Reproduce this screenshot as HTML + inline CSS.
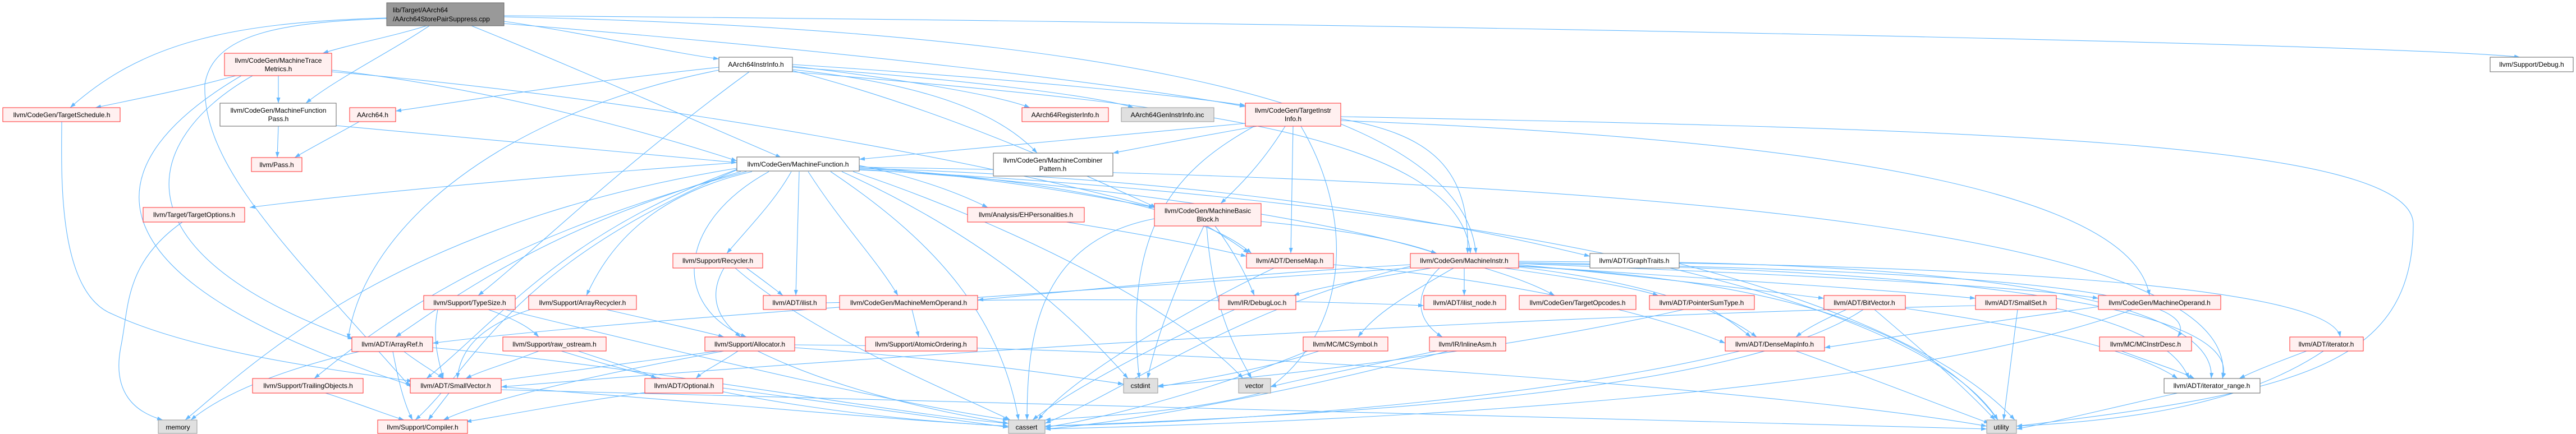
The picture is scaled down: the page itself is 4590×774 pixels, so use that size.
<!DOCTYPE html>
<html><head><meta charset="utf-8"><style>
html,body{margin:0;padding:0;background:#fff;}
svg{display:block;}
text{font-family:"Liberation Sans",Arial,sans-serif;font-size:12px;fill:#000;}
.e{fill:none;stroke:#63b8ff;stroke-width:1.1;marker-end:url(#a);}
.r{fill:#fff0f0;stroke:#ff2b2b;stroke-width:1;}
.g{fill:#fff;stroke:#666;stroke-width:1;}
.d{fill:#e0e0e0;stroke:#999;stroke-width:1;}
.root{fill:#999;stroke:#666;stroke-width:1;}
</style></head><body>
<svg width="4590" height="774" viewBox="0 0 4590 774" xmlns="http://www.w3.org/2000/svg">
<defs><marker id="a" markerWidth="11" markerHeight="8" refX="10" refY="3.5" orient="auto" markerUnits="userSpaceOnUse"><path d="M0,0 L10,3.5 L0,7 z" fill="#63b8ff"/></marker></defs>
<g>
<path class="e" d="M760 46 C700 65 620 80 575 95"/>
<path class="e" d="M689 32 C400 40 250 80 125 192"/>
<path class="e" d="M765 46 C700 90 600 140 545 184"/>
<path class="e" d="M898 38 C1050 60 1200 95 1281 105"/>
<path class="e" d="M840 46 C1000 110 1250 220 1392 281"/>
<path class="e" d="M898 42 C1500 90 2000 150 2219 190"/>
<path class="e" d="M898 30 C1800 50 2600 150 2630 452"/>
<path class="e" d="M898 28 C2500 40 4300 80 4490 102"/>
<path class="e" d="M689 33 C500 40 380 60 365 150 C360 300 520 450 731 690"/>
<path class="e" d="M420 135 C330 160 250 175 170 192"/>
<path class="e" d="M496 135 L496 184"/>
<path class="e" d="M450 135 C250 250 200 450 630 605"/>
<path class="e" d="M430 135 C150 300 150 500 735 688"/>
<path class="e" d="M591 125 C900 160 1200 250 1313 287"/>
<path class="e" d="M591 128 C1200 180 1800 300 2057 370"/>
<path class="e" d="M496 225 L494 281"/>
<path class="e" d="M599 224 C900 250 1200 280 1313 290"/>
<path class="e" d="M640 217 C600 240 560 260 525 281"/>
<path class="e" d="M1281 120 C1000 150 800 185 705 198"/>
<path class="e" d="M1412 118 C1600 140 1780 170 1835 192"/>
<path class="e" d="M1412 120 C1700 140 1950 170 2020 192"/>
<path class="e" d="M1412 115 C1800 140 2100 170 2219 188"/>
<path class="e" d="M1412 124 C1650 150 1780 200 1848 273"/>
<path class="e" d="M1335 128 C1100 300 950 450 852 527"/>
<path class="e" d="M1281 125 C900 200 650 400 620 605"/>
<path class="e" d="M1412 128 C2000 180 2600 220 2620 452"/>
<path class="e" d="M1412 126 C1700 200 1950 320 2060 370"/>
<path class="e" d="M2219 220 C1900 250 1700 270 1531 284"/>
<path class="e" d="M2240 225 C2100 250 2050 260 1983 273"/>
<path class="e" d="M2290 225 C2250 290 2210 330 2175 363"/>
<path class="e" d="M2304 225 L2300 452"/>
<path class="e" d="M2389 212 C2550 240 2620 300 2615 452"/>
<path class="e" d="M2235 225 C2100 300 2000 400 2030 675"/>
<path class="e" d="M2318 225 C2420 400 2400 600 2250 700 C2100 740 1900 745 1862 749"/>
<path class="e" d="M2389 208 C3500 230 4300 250 4300 400 C4300 650 4100 700 3593 760"/>
<path class="e" d="M2389 215 C3300 250 3800 350 3830 527"/>
<path class="e" d="M1313 290 C900 320 600 350 445 370"/>
<path class="e" d="M1313 300 C700 400 450 650 330 749"/>
<path class="e" d="M1313 303 C900 480 850 650 740 749"/>
<path class="e" d="M1313 302 C1000 420 900 560 760 675"/>
<path class="e" d="M1320 306 C1000 400 850 500 705 601"/>
<path class="e" d="M1330 306 C900 420 700 560 560 675"/>
<path class="e" d="M1410 306 C1380 360 1330 410 1295 452"/>
<path class="e" d="M1340 306 C1150 350 1080 450 1045 527"/>
<path class="e" d="M1424 306 L1418 527"/>
<path class="e" d="M1440 306 C1500 400 1560 460 1600 527"/>
<path class="e" d="M1531 295 C1650 320 1720 350 1760 370"/>
<path class="e" d="M1531 297 C1800 320 1950 350 2057 370"/>
<path class="e" d="M1531 300 C1900 320 2150 380 2230 452"/>
<path class="e" d="M1531 300 C2200 320 2600 400 2833 457"/>
<path class="e" d="M1480 306 C1650 420 1780 550 1815 749"/>
<path class="e" d="M1500 306 C1750 420 1900 550 2010 675"/>
<path class="e" d="M1520 306 C1800 400 2100 550 2215 675"/>
<path class="e" d="M1370 306 C1200 400 1200 550 1330 601"/>
<path class="e" d="M1531 303 C2500 350 3400 500 3560 749"/>
<path class="e" d="M1531 298 C3000 320 4000 420 3960 675"/>
<path class="e" d="M1531 302 C2000 330 2400 400 2560 452"/>
<path class="e" d="M1330 478 C1360 500 1380 515 1395 527"/>
<path class="e" d="M1290 478 C1260 530 1280 570 1320 601"/>
<path class="e" d="M1310 478 C1450 600 1700 700 1800 749"/>
<path class="e" d="M1080 552 C1180 575 1250 590 1290 601"/>
<path class="e" d="M945 552 C860 580 820 620 815 675"/>
<path class="e" d="M870 552 C920 570 945 585 960 601"/>
<path class="e" d="M780 552 C770 600 780 640 790 675"/>
<path class="e" d="M900 552 C1300 650 1600 720 1797 749"/>
<path class="e" d="M1625 552 L1637 601"/>
<path class="e" d="M960 626 C900 650 860 660 830 675"/>
<path class="e" d="M1030 626 C1100 650 1140 660 1170 675"/>
<path class="e" d="M1000 626 C1300 720 1600 750 1797 760"/>
<path class="e" d="M1315 626 C1280 650 1255 660 1240 675"/>
<path class="e" d="M1280 626 C1100 650 950 670 880 680"/>
<path class="e" d="M1290 626 C1000 680 850 720 790 749"/>
<path class="e" d="M1350 626 C1500 700 1700 740 1797 755"/>
<path class="e" d="M1416 620 C1700 640 1900 670 2002 685"/>
<path class="e" d="M1416 615 C2200 620 3200 700 3540 760"/>
<path class="e" d="M720 627 C750 650 770 660 790 675"/>
<path class="e" d="M700 627 C710 680 720 720 735 749"/>
<path class="e" d="M640 627 C500 660 400 700 340 749"/>
<path class="e" d="M771 620 C1200 660 1600 740 1797 755"/>
<path class="e" d="M800 701 L763 749"/>
<path class="e" d="M893 690 C1300 720 1600 750 1797 760"/>
<path class="e" d="M893 695 C2000 730 3000 750 3540 765"/>
<path class="e" d="M1150 700 C1000 720 880 745 830 752"/>
<path class="e" d="M1288 692 C1500 720 1700 750 1797 762"/>
<path class="e" d="M110 217 C110 300 100 520 200 560 C350 630 600 660 735 680"/>
<path class="e" d="M325 396 C220 470 230 550 215 620 C200 700 240 735 290 749"/>
<path class="e" d="M580 701 C640 720 690 740 720 749"/>
<path class="e" d="M2150 403 C2180 420 2210 440 2225 452"/>
<path class="e" d="M2165 403 C2200 450 2220 490 2235 527"/>
<path class="e" d="M2145 403 C2100 500 2060 600 2045 675"/>
<path class="e" d="M2150 403 C2160 550 2200 620 2230 675"/>
<path class="e" d="M2057 390 C1850 430 1830 600 1830 749"/>
<path class="e" d="M2247 395 C2400 410 2500 430 2560 452"/>
<path class="e" d="M2609 478 L2609 527"/>
<path class="e" d="M2645 478 C2700 495 2740 510 2770 527"/>
<path class="e" d="M2680 478 C2800 495 2900 510 2955 527"/>
<path class="e" d="M2590 478 C2500 530 2450 560 2420 601"/>
<path class="e" d="M2565 478 C2520 520 2520 570 2570 601"/>
<path class="e" d="M2550 478 C2420 500 2340 515 2305 527"/>
<path class="e" d="M2706 472 C3000 500 3150 520 3250 532"/>
<path class="e" d="M2706 474 C3100 500 3400 520 3520 532"/>
<path class="e" d="M2706 470 C3200 490 3600 510 3739 532"/>
<path class="e" d="M2706 476 C2900 500 3050 540 3130 601"/>
<path class="e" d="M2706 468 C3300 480 3950 500 3880 601"/>
<path class="e" d="M2706 466 C3400 470 4150 500 4170 601"/>
<path class="e" d="M2706 470 C3500 480 4000 550 3960 675"/>
<path class="e" d="M2706 475 C3200 500 3450 600 3560 749"/>
<path class="e" d="M2513 475 C2200 550 2000 700 1862 755"/>
<path class="e" d="M2513 472 C2200 490 1900 520 1742 535"/>
<path class="e" d="M2513 478 C1900 520 1100 570 771 612"/>
<path class="e" d="M2992 470 C3300 550 3500 650 3590 749"/>
<path class="e" d="M2992 468 C3600 480 3950 550 3940 675"/>
<path class="e" d="M3050 552 C3080 570 3100 585 3120 601"/>
<path class="e" d="M3000 552 C2700 620 2300 670 2063 688"/>
<path class="e" d="M3290 552 C3250 570 3220 585 3200 601"/>
<path class="e" d="M3340 552 C3420 620 3500 690 3555 749"/>
<path class="e" d="M3320 552 C3100 700 2400 740 1862 760"/>
<path class="e" d="M3395 550 C3600 580 3800 620 3880 675"/>
<path class="e" d="M3595 552 L3570 749"/>
<path class="e" d="M3520 545 C2500 570 1500 640 893 690"/>
<path class="e" d="M3664 550 C3800 580 3880 620 3900 675"/>
<path class="e" d="M3739 547 C3500 580 3350 605 3251 620"/>
<path class="e" d="M3800 552 C3400 700 2500 750 1862 765"/>
<path class="e" d="M3200 626 C3350 680 3450 720 3545 755"/>
<path class="e" d="M3100 626 C2800 700 2300 750 1862 760"/>
<path class="e" d="M3780 626 C3830 645 3880 660 3910 675"/>
<path class="e" d="M4110 626 C4060 645 4020 660 3990 675"/>
<path class="e" d="M4140 626 C4000 720 3800 750 3593 760"/>
<path class="e" d="M3880 701 C3750 730 3650 755 3593 765"/>
<path class="e" d="M2350 626 C2250 660 2120 680 2063 690"/>
<path class="e" d="M2330 626 C2150 700 1950 750 1862 762"/>
<path class="e" d="M2580 626 C2300 700 2000 755 1862 765"/>
<path class="e" d="M2560 626 C2400 660 2300 680 2264 690"/>
<path class="e" d="M2200 552 C2050 620 1900 700 1840 749"/>
<path class="e" d="M2270 478 C2100 560 1900 680 1850 749"/>
<path class="e" d="M2376 472 C2700 500 2950 560 3074 612"/>
<path class="e" d="M1472 540 C1900 530 2300 535 2537 545"/>
<path class="e" d="M1900 396 C2050 420 2150 440 2221 457"/>
</g>
<g>
<rect class="root" x="689" y="5" width="209" height="41"/>
<text x="700" y="22">lib/Target/AArch64</text><text x="700" y="38">/AArch64StorePairSuppress.cpp</text>

<rect class="r" x="400" y="95" width="191" height="40"/>
<text x="496" y="112" text-anchor="middle">llvm/CodeGen/MachineTrace</text><text x="496" y="127" text-anchor="middle">Metrics.h</text>
<rect class="r" x="5" y="192" width="209" height="25"/><text x="110" y="209" text-anchor="middle">llvm/CodeGen/TargetSchedule.h</text>
<rect class="g" x="392" y="184" width="207" height="41"/>
<text x="496" y="201" text-anchor="middle">llvm/CodeGen/MachineFunction</text><text x="496" y="216" text-anchor="middle">Pass.h</text>
<rect class="r" x="623" y="192" width="82" height="25"/><text x="664" y="209" text-anchor="middle">AArch64.h</text>
<rect class="r" x="448" y="281" width="90" height="25"/><text x="493" y="298" text-anchor="middle">llvm/Pass.h</text>
<rect class="r" x="255" y="370" width="181" height="26"/><text x="346" y="387" text-anchor="middle">llvm/Target/TargetOptions.h</text>
<rect class="r" x="627" y="601" width="144" height="26"/><text x="699" y="618" text-anchor="middle">llvm/ADT/ArrayRef.h</text>
<rect class="r" x="450" y="675" width="197" height="26"/><text x="549" y="692" text-anchor="middle">llvm/Support/TrailingObjects.h</text>
<rect class="r" x="731" y="675" width="162" height="26"/><text x="812" y="692" text-anchor="middle">llvm/ADT/SmallVector.h</text>
<rect class="d" x="282" y="749" width="69" height="24"/><text x="317" y="766" text-anchor="middle">memory</text>
<rect class="r" x="673" y="749" width="160" height="24"/><text x="753" y="766" text-anchor="middle">llvm/Support/Compiler.h</text>
<rect class="g" x="1281" y="102" width="131" height="26"/><text x="1347" y="119" text-anchor="middle">AArch64InstrInfo.h</text>
<rect class="g" x="1313" y="280" width="218" height="25"/><text x="1422" y="297" text-anchor="middle">llvm/CodeGen/MachineFunction.h</text>
<rect class="r" x="1199" y="452" width="160" height="26"/><text x="1279" y="469" text-anchor="middle">llvm/Support/Recycler.h</text>
<rect class="r" x="755" y="527" width="163" height="25"/><text x="837" y="544" text-anchor="middle">llvm/Support/TypeSize.h</text>
<rect class="r" x="942" y="527" width="192" height="25"/><text x="1038" y="544" text-anchor="middle">llvm/Support/ArrayRecycler.h</text>
<rect class="r" x="1360" y="527" width="112" height="25"/><text x="1416" y="544" text-anchor="middle">llvm/ADT/ilist.h</text>
<rect class="r" x="1496" y="527" width="246" height="25"/><text x="1619" y="544" text-anchor="middle">llvm/CodeGen/MachineMemOperand.h</text>
<rect class="r" x="896" y="601" width="184" height="25"/><text x="988" y="618" text-anchor="middle">llvm/Support/raw_ostream.h</text>
<rect class="r" x="1256" y="601" width="160" height="25"/><text x="1336" y="618" text-anchor="middle">llvm/Support/Allocator.h</text>
<rect class="r" x="1149" y="675" width="139" height="26"/><text x="1219" y="692" text-anchor="middle">llvm/ADT/Optional.h</text>
<rect class="r" x="1821" y="192" width="154" height="25"/><text x="1898" y="209" text-anchor="middle">AArch64RegisterInfo.h</text>
<rect class="d" x="1998" y="192" width="165" height="25"/><text x="2080" y="209" text-anchor="middle">AArch64GenInstrInfo.inc</text>
<rect class="r" x="2219" y="184" width="170" height="41"/>
<text x="2304" y="201" text-anchor="middle">llvm/CodeGen/TargetInstr</text><text x="2304" y="216" text-anchor="middle">Info.h</text>
<rect class="g" x="1770" y="273" width="213" height="41"/>
<text x="1876" y="290" text-anchor="middle">llvm/CodeGen/MachineCombiner</text><text x="1876" y="305" text-anchor="middle">Pattern.h</text>
<rect class="r" x="1724" y="370" width="208" height="26"/><text x="1828" y="387" text-anchor="middle">llvm/Analysis/EHPersonalities.h</text>
<rect class="r" x="2057" y="363" width="190" height="40"/>
<text x="2152" y="380" text-anchor="middle">llvm/CodeGen/MachineBasic</text><text x="2152" y="395" text-anchor="middle">Block.h</text>
<rect class="r" x="2221" y="452" width="155" height="26"/><text x="2298" y="469" text-anchor="middle">llvm/ADT/DenseMap.h</text>
<rect class="r" x="2172" y="527" width="137" height="25"/><text x="2240" y="544" text-anchor="middle">llvm/IR/DebugLoc.h</text>
<rect class="r" x="1542" y="601" width="199" height="25"/><text x="1641" y="618" text-anchor="middle">llvm/Support/AtomicOrdering.h</text>
<rect class="d" x="2002" y="675" width="61" height="26"/><text x="2032" y="692" text-anchor="middle">cstdint</text>
<rect class="d" x="2207" y="675" width="57" height="26"/><text x="2235" y="692" text-anchor="middle">vector</text>
<rect class="d" x="1797" y="749" width="65" height="24"/><text x="1829" y="766" text-anchor="middle">cassert</text>
<rect class="r" x="2513" y="452" width="193" height="26"/><text x="2609" y="469" text-anchor="middle">llvm/CodeGen/MachineInstr.h</text>
<rect class="g" x="2833" y="452" width="159" height="26"/><text x="2912" y="469" text-anchor="middle">llvm/ADT/GraphTraits.h</text>
<rect class="r" x="2537" y="527" width="146" height="25"/><text x="2610" y="544" text-anchor="middle">llvm/ADT/ilist_node.h</text>
<rect class="r" x="2707" y="527" width="208" height="25"/><text x="2811" y="544" text-anchor="middle">llvm/CodeGen/TargetOpcodes.h</text>
<rect class="r" x="2939" y="527" width="187" height="25"/><text x="3032" y="544" text-anchor="middle">llvm/ADT/PointerSumType.h</text>
<rect class="r" x="2322" y="601" width="151" height="25"/><text x="2397" y="618" text-anchor="middle">llvm/MC/MCSymbol.h</text>
<rect class="r" x="2547" y="601" width="136" height="25"/><text x="2615" y="618" text-anchor="middle">llvm/IR/InlineAsm.h</text>
<rect class="r" x="3250" y="527" width="145" height="25"/><text x="3322" y="544" text-anchor="middle">llvm/ADT/BitVector.h</text>
<rect class="r" x="3520" y="527" width="144" height="25"/><text x="3592" y="544" text-anchor="middle">llvm/ADT/SmallSet.h</text>
<rect class="r" x="3739" y="527" width="218" height="25"/><text x="3848" y="544" text-anchor="middle">llvm/CodeGen/MachineOperand.h</text>
<rect class="r" x="3074" y="601" width="177" height="25"/><text x="3162" y="618" text-anchor="middle">llvm/ADT/DenseMapInfo.h</text>
<rect class="r" x="3741" y="601" width="164" height="25"/><text x="3823" y="618" text-anchor="middle">llvm/MC/MCInstrDesc.h</text>
<rect class="d" x="3540" y="749" width="53" height="24"/><text x="3566" y="766" text-anchor="middle">utility</text>
<rect class="g" x="4437" y="102" width="148" height="26"/><text x="4511" y="119" text-anchor="middle">llvm/Support/Debug.h</text>
<rect class="r" x="4080" y="601" width="131" height="25"/><text x="4145" y="618" text-anchor="middle">llvm/ADT/iterator.h</text>
<rect class="g" x="3856" y="675" width="171" height="26"/><text x="3941" y="692" text-anchor="middle">llvm/ADT/iterator_range.h</text>
</g>
</svg>
</body></html>
